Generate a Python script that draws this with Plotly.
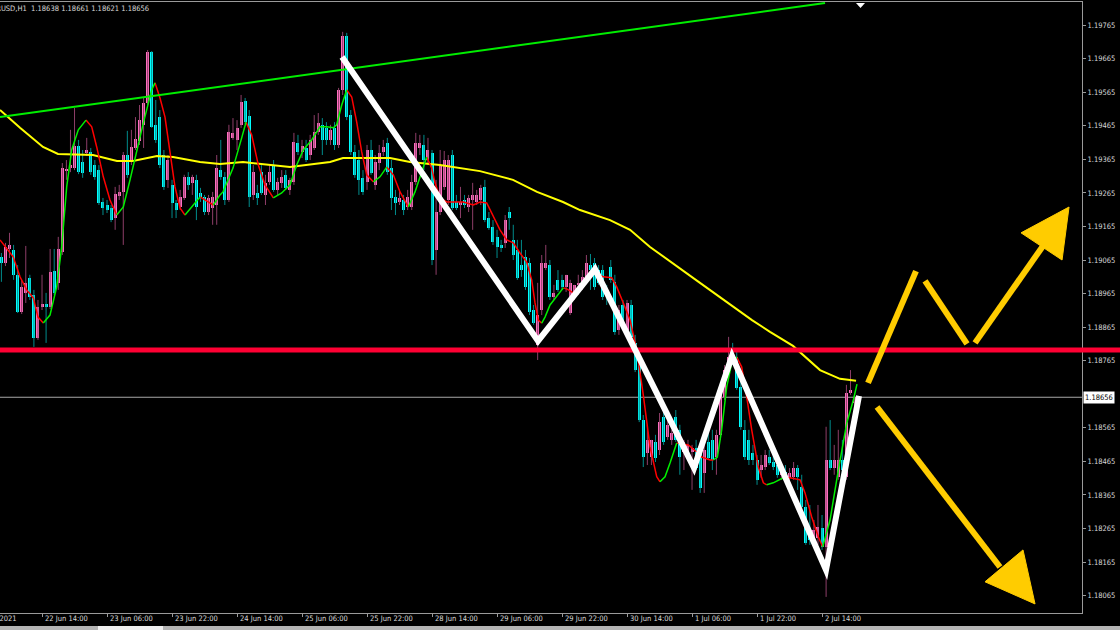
import plotly.graph_objects as go

# ---------------- data (EURUSD H1) ----------------
opens = [
    1.19074, 1.19056, 1.19098, 1.19095, 1.19021, 1.18910, 1.18967, 1.19012, 1.18961, 1.18833,
    1.18925, 1.18934, 1.18925, 1.19032, 1.18997, 1.19089, 1.19333, 1.19339, 1.19339, 1.19405,
    1.19357, 1.19384, 1.19387, 1.19348, 1.19333, 1.19238, 1.19229, 1.19220, 1.19190, 1.19256,
    1.19268, 1.19378, 1.19360, 1.19399, 1.19420, 1.19468, 1.19533, 1.19685, 1.19468, 1.19491,
    1.19378, 1.19304, 1.19289, 1.19235, 1.19223, 1.19250, 1.19313, 1.19295, 1.19304, 1.19265,
    1.19253, 1.19208, 1.19220, 1.19229, 1.19333, 1.19313, 1.19244, 1.19429, 1.19423, 1.19468,
    1.19539, 1.19494, 1.19259, 1.19265, 1.19327, 1.19259, 1.19298, 1.19348, 1.19274, 1.19295,
    1.19319, 1.19274, 1.19298, 1.19414, 1.19387, 1.19399, 1.19378, 1.19399, 1.19447, 1.19468,
    1.19459, 1.19423, 1.19459, 1.19408, 1.19572, 1.19733, 1.19497, 1.19387, 1.19363, 1.19310,
    1.19298, 1.19393, 1.19289, 1.19354, 1.19387, 1.19414, 1.19339, 1.19253, 1.19238, 1.19244,
    1.19223, 1.19223, 1.19298, 1.19399, 1.19408, 1.19363, 1.19384, 1.19095, 1.19208, 1.19283,
    1.19244, 1.19378, 1.19238, 1.19229, 1.19244, 1.19223, 1.19244, 1.19238, 1.19244, 1.19283,
    1.19190, 1.19164, 1.19134, 1.19110, 1.19116, 1.19208, 1.19125, 1.19095, 1.19050, 1.19074,
    1.19056, 1.18916, 1.18812, 1.18916, 1.19041, 1.19050, 1.18955, 1.19006, 1.19006, 1.18985,
    1.18907, 1.18955, 1.18991, 1.18982, 1.19015, 1.19050, 1.19056, 1.19035, 1.19035, 1.18976,
    1.19044, 1.19000, 1.18857, 1.18931, 1.18857, 1.18931, 1.18818, 1.18758, 1.18588, 1.18490,
    1.18478, 1.18523, 1.18499, 1.18597, 1.18538, 1.18529, 1.18597, 1.18559, 1.18493, 1.18493,
    1.18493, 1.18505, 1.18490, 1.18430, 1.18523, 1.18529, 1.18478, 1.18544, 1.18657, 1.18737,
    1.18788, 1.18776, 1.18687, 1.18559, 1.18529, 1.18490, 1.18469, 1.18439, 1.18448, 1.18478,
    1.18463, 1.18454, 1.18425, 1.18433, 1.18416, 1.18419, 1.18445, 1.18389, 1.18329, 1.18261,
    1.18237, 1.18237, 1.18267, 1.18210, 1.18469, 1.18445, 1.18419, 1.18469, 1.18419, 1.18669,
    1.18638,
]
highs = [
    1.19086, 1.19116, 1.19146, 1.19110, 1.19050, 1.19006, 1.19107, 1.19021, 1.18976, 1.18946,
    1.19021, 1.18967, 1.19098, 1.19098, 1.19134, 1.19354, 1.19363, 1.19453, 1.19518, 1.19423,
    1.19393, 1.19429, 1.19399, 1.19363, 1.19348, 1.19250, 1.19244, 1.19229, 1.19283, 1.19289,
    1.19387, 1.19450, 1.19453, 1.19491, 1.19527, 1.19548, 1.19691, 1.19688, 1.19542, 1.19512,
    1.19393, 1.19378, 1.19304, 1.19244, 1.19274, 1.19319, 1.19327, 1.19319, 1.19319, 1.19280,
    1.19259, 1.19259, 1.19268, 1.19378, 1.19423, 1.19327, 1.19468, 1.19488, 1.19482, 1.19557,
    1.19548, 1.19512, 1.19348, 1.19289, 1.19348, 1.19319, 1.19348, 1.19363, 1.19310, 1.19333,
    1.19333, 1.19310, 1.19444, 1.19438, 1.19423, 1.19423, 1.19438, 1.19497, 1.19503, 1.19488,
    1.19476, 1.19468, 1.19476, 1.19578, 1.19745, 1.19742, 1.19512, 1.19408, 1.19393, 1.19333,
    1.19408, 1.19423, 1.19378, 1.19408, 1.19423, 1.19429, 1.19363, 1.19274, 1.19274, 1.19259,
    1.19274, 1.19319, 1.19444, 1.19438, 1.19438, 1.19429, 1.19393, 1.19304, 1.19393, 1.19390,
    1.19378, 1.19393, 1.19259, 1.19283, 1.19259, 1.19259, 1.19295, 1.19274, 1.19289, 1.19304,
    1.19208, 1.19184, 1.19155, 1.19125, 1.19199, 1.19223, 1.19170, 1.19125, 1.19125, 1.19095,
    1.19071, 1.18931, 1.18997, 1.19080, 1.19110, 1.19065, 1.18991, 1.19035, 1.19021, 1.19021,
    1.19006, 1.18991, 1.19021, 1.19035, 1.19080, 1.19083, 1.19071, 1.19050, 1.19050, 1.18991,
    1.19065, 1.19021, 1.18931, 1.18946, 1.18946, 1.18946, 1.18842, 1.18782, 1.18603, 1.18574,
    1.18529, 1.18544, 1.18609, 1.18618, 1.18588, 1.18559, 1.18618, 1.18574, 1.18529, 1.18529,
    1.18514, 1.18529, 1.18499, 1.18514, 1.18559, 1.18559, 1.18559, 1.18678, 1.18752, 1.18836,
    1.18818, 1.18797, 1.18708, 1.18588, 1.18559, 1.18514, 1.18484, 1.18484, 1.18499, 1.18499,
    1.18484, 1.18469, 1.18454, 1.18454, 1.18445, 1.18463, 1.18454, 1.18425, 1.18350, 1.18335,
    1.18290, 1.18335, 1.18305, 1.18568, 1.18588, 1.18514, 1.18559, 1.18529, 1.18693, 1.18737,
    1.18661,
]
lows = [
    1.19000, 1.19047, 1.19071, 1.19006, 1.18907, 1.18904, 1.18937, 1.18946, 1.18806, 1.18827,
    1.18916, 1.18818, 1.18919, 1.18961, 1.18976, 1.19080, 1.19304, 1.19327, 1.19333, 1.19321,
    1.19310, 1.19375, 1.19319, 1.19304, 1.19229, 1.19199, 1.19205, 1.19178, 1.19155, 1.19244,
    1.19110, 1.19310, 1.19348, 1.19393, 1.19408, 1.19399, 1.19527, 1.19459, 1.19414, 1.19339,
    1.19274, 1.19280, 1.19190, 1.19190, 1.19214, 1.19244, 1.19274, 1.19259, 1.19184, 1.19238,
    1.19199, 1.19199, 1.19170, 1.19170, 1.19304, 1.19229, 1.19238, 1.19423, 1.19393, 1.19459,
    1.19470, 1.19223, 1.19244, 1.19229, 1.19259, 1.19229, 1.19289, 1.19268, 1.19259, 1.19280,
    1.19274, 1.19259, 1.19289, 1.19378, 1.19369, 1.19357, 1.19363, 1.19393, 1.19438, 1.19378,
    1.19408, 1.19408, 1.19393, 1.19399, 1.19557, 1.19482, 1.19378, 1.19310, 1.19259, 1.19259,
    1.19274, 1.19319, 1.19274, 1.19333, 1.19375, 1.19319, 1.19214, 1.19199, 1.19229, 1.19199,
    1.19214, 1.19214, 1.19289, 1.19378, 1.19333, 1.19348, 1.19050, 1.19021, 1.19199, 1.19274,
    1.19229, 1.19214, 1.19214, 1.19190, 1.19220, 1.19208, 1.19155, 1.19229, 1.19229, 1.19178,
    1.19155, 1.19110, 1.19071, 1.19089, 1.19101, 1.19155, 1.19065, 1.19006, 1.19015, 1.18976,
    1.18901, 1.18872, 1.18767, 1.18901, 1.19035, 1.18946, 1.18946, 1.18970, 1.18976, 1.18970,
    1.18901, 1.18946, 1.18961, 1.18976, 1.19006, 1.18976, 1.18976, 1.18991, 1.18946, 1.18931,
    1.18997, 1.18842, 1.18842, 1.18857, 1.18842, 1.18827, 1.18731, 1.18582, 1.18448, 1.18454,
    1.18454, 1.18463, 1.18484, 1.18514, 1.18529, 1.18514, 1.18523, 1.18425, 1.18439, 1.18469,
    1.18380, 1.18439, 1.18371, 1.18371, 1.18469, 1.18439, 1.18425, 1.18529, 1.18648, 1.18731,
    1.18752, 1.18678, 1.18559, 1.18469, 1.18454, 1.18454, 1.18395, 1.18416, 1.18439, 1.18454,
    1.18439, 1.18416, 1.18410, 1.18416, 1.18410, 1.18410, 1.18380, 1.18320, 1.18216, 1.18216,
    1.18216, 1.18216, 1.18201, 1.18061, 1.18439, 1.18425, 1.18410, 1.18416, 1.18410, 1.18663,
    1.18621,
]
closes = [
    1.19056, 1.19104, 1.19110, 1.19021, 1.18910, 1.18985, 1.18997, 1.18955, 1.18833, 1.18925,
    1.18934, 1.18925, 1.19029, 1.18967, 1.19098, 1.19339, 1.19336, 1.19348, 1.19405, 1.19327,
    1.19324, 1.19393, 1.19327, 1.19313, 1.19235, 1.19220, 1.19214, 1.19184, 1.19262, 1.19268,
    1.19378, 1.19319, 1.19402, 1.19426, 1.19482, 1.19533, 1.19685, 1.19462, 1.19423, 1.19348,
    1.19283, 1.19363, 1.19235, 1.19214, 1.19253, 1.19313, 1.19289, 1.19313, 1.19223, 1.19253,
    1.19208, 1.19250, 1.19253, 1.19339, 1.19313, 1.19244, 1.19447, 1.19444, 1.19459, 1.19536,
    1.19476, 1.19253, 1.19327, 1.19250, 1.19265, 1.19295, 1.19327, 1.19274, 1.19298, 1.19313,
    1.19280, 1.19304, 1.19417, 1.19387, 1.19405, 1.19363, 1.19423, 1.19447, 1.19473, 1.19423,
    1.19423, 1.19453, 1.19408, 1.19572, 1.19733, 1.19491, 1.19387, 1.19319, 1.19304, 1.19268,
    1.19393, 1.19324, 1.19357, 1.19384, 1.19402, 1.19327, 1.19250, 1.19235, 1.19250, 1.19214,
    1.19253, 1.19298, 1.19414, 1.19414, 1.19363, 1.19393, 1.19065, 1.19208, 1.19348, 1.19363,
    1.19363, 1.19220, 1.19220, 1.19238, 1.19229, 1.19250, 1.19259, 1.19259, 1.19280, 1.19184,
    1.19161, 1.19119, 1.19104, 1.19101, 1.19184, 1.19190, 1.19080, 1.19012, 1.19035, 1.18985,
    1.18910, 1.18877, 1.18901, 1.19056, 1.19056, 1.18955, 1.18967, 1.18976, 1.18985, 1.19021,
    1.18997, 1.18991, 1.18997, 1.19015, 1.19056, 1.19035, 1.18985, 1.18997, 1.18955, 1.18961,
    1.19006, 1.18851, 1.18916, 1.18872, 1.18937, 1.18836, 1.18737, 1.18588, 1.18478, 1.18529,
    1.18529, 1.18475, 1.18582, 1.18523, 1.18574, 1.18550, 1.18529, 1.18478, 1.18523, 1.18514,
    1.18505, 1.18445, 1.18386, 1.18499, 1.18475, 1.18469, 1.18544, 1.18672, 1.18737, 1.18776,
    1.18758, 1.18684, 1.18568, 1.18478, 1.18469, 1.18469, 1.18410, 1.18454, 1.18484, 1.18460,
    1.18448, 1.18425, 1.18439, 1.18419, 1.18430, 1.18445, 1.18419, 1.18329, 1.18222, 1.18231,
    1.18261, 1.18270, 1.18210, 1.18469, 1.18445, 1.18469, 1.18469, 1.18439, 1.18669, 1.18678,
    1.18656,
]

# slow moving average (yellow), read at points
yellow_bars = [-0.34, 4.58, 10.24, 13.93, 22.55, 28.46, 32.39, 38.3, 42.24, 48.89,
               53.81, 59.47, 71.04, 80.9, 84.09, 92.46, 95.65, 100.58, 107.96, 117.81,
               125.93, 131.84, 138.24, 142.43, 149.81, 154.74, 159.66, 171.96, 184.76, 189.19,
               194.85, 201.5, 206.42, 210.37]
yellow_vals = [1.19512, 1.19459, 1.19402, 1.19381, 1.19378, 1.19360, 1.19360, 1.19375, 1.19372, 1.19357,
               1.19351, 1.19357, 1.19342, 1.19357, 1.19369, 1.19369, 1.19369, 1.19357, 1.19348, 1.19330,
               1.19304, 1.19268, 1.19238, 1.19214, 1.19184, 1.19155, 1.19104, 1.18997, 1.18886, 1.18851,
               1.18809, 1.18737, 1.18711, 1.18705]

# fast two-colour moving average (red falling / green rising)
ma_bars = [-0.34, 1.30, 2.93, 4.58, 6.23, 7.85, 9.01, 10.31, 11.96, 13.61,
           14.84, 16.07, 17.30, 18.93, 20.82, 22.23, 23.46, 25.08, 26.73, 28.38,
           30.01, 31.66, 33.30, 34.93, 37.00, 37.81, 39.04, 40.27, 41.50, 42.73,
           43.96, 45.19, 46.84, 48.89, 50.12, 52.16, 53.81, 54.55, 57.01, 59.15,
           60.21, 61.61, 63.24, 64.89, 66.93, 68.99, 71.04, 72.69, 74.31, 76.38,
           78.42, 80.07, 81.70, 82.53, 83.77, 85.00, 86.23, 87.46, 88.69, 89.92,
           91.54, 93.19, 94.84, 96.47, 98.12, 100.16, 101.81, 103.46, 104.69, 105.92,
           106.73, 107.96, 109.61, 113.70, 116.16, 117.81, 119.46, 121.08, 122.73, 124.38,
           126.00, 127.65, 129.30, 130.53, 131.35, 132.16, 133.00, 133.81, 135.04, 136.69,
           138.31, 139.15, 140.77, 142.43, 144.89, 146.12, 148.16, 150.23, 151.46, 153.08,
           154.74, 156.39, 158.00, 159.66, 161.31, 162.12, 163.35, 164.58, 166.23, 169.09,
           171.15, 172.38, 174.43, 175.24, 176.23, 177.30, 178.53, 179.77, 181.00, 182.23,
           183.46, 184.69, 186.32, 187.55, 188.38, 190.00, 192.47, 194.12, 196.58, 197.81,
           199.46, 201.08, 202.17, 203.97, 206.01, 208.08, 209.71, 210.60]
ma_vals = [1.19125, 1.19101, 1.19074, 1.19015, 1.18976, 1.18952, 1.18895, 1.18877, 1.18901, 1.18985,
           1.19104, 1.19283, 1.19393, 1.19453, 1.19482, 1.19462, 1.19402, 1.19313, 1.19244, 1.19199,
           1.19223, 1.19304, 1.19393, 1.19473, 1.19572, 1.19593, 1.19548, 1.19491, 1.19384, 1.19283,
           1.19220, 1.19199, 1.19223, 1.19253, 1.19244, 1.19229, 1.19259, 1.19268, 1.19339, 1.19429,
           1.19476, 1.19438, 1.19348, 1.19289, 1.19250, 1.19265, 1.19289, 1.19348, 1.19393, 1.19423,
           1.19462, 1.19462, 1.19459, 1.19468, 1.19527, 1.19572, 1.19551, 1.19476, 1.19387, 1.19319,
           1.19298, 1.19313, 1.19342, 1.19319, 1.19268, 1.19223, 1.19268, 1.19327, 1.19372, 1.19339,
           1.19295, 1.19250, 1.19238, 1.19238, 1.19229, 1.19238, 1.19235, 1.19193, 1.19155, 1.19125,
           1.19116, 1.19086, 1.19059, 1.19006, 1.18937, 1.18886, 1.18877, 1.18895, 1.18931, 1.18955,
           1.18982, 1.18979, 1.18967, 1.18976, 1.19015, 1.19029, 1.19015, 1.19012, 1.18985, 1.18937,
           1.18886, 1.18797, 1.18663, 1.18508, 1.18419, 1.18404, 1.18419, 1.18460, 1.18520, 1.18514,
           1.18493, 1.18478, 1.18469, 1.18469, 1.18478, 1.18559, 1.18687, 1.18758, 1.18776, 1.18746,
           1.18657, 1.18559, 1.18448, 1.18401, 1.18395, 1.18401, 1.18416, 1.18416, 1.18410, 1.18371,
           1.18299, 1.18240, 1.18210, 1.18290, 1.18439, 1.18579, 1.18648, 1.18695]
ma_cols = "rrrrrrrggggggg" "rrrrrggggggrrrrrrggrrggggg" "rrrrgggggggggggrrrrrggrrrggg" \
          "rrrrrrrrrrrrrrrrrrgggg" "rrggg" "rrrrrrrrrrggg" "rrrrrggggg" "rrrrrrgg" "rrrrrrgggggg"

# drawn objects
trend_bars = [-0.34, 202.74]
trend_vals = [1.19491, 1.19831]
support_level = 1.18797
last_price = 1.18656
zig_bars = [83.84, 132.09, 146.12, 170.49, 179.84, 202.98, 211.1]
zig_vals = [1.19670, 1.18824, 1.19038, 1.18445, 1.18779, 1.18141, 1.18660]
up1_bars, up1_vals = [213.32, 225.13], [1.18699, 1.19032]
up2_bars, up2_vals = [227.35, 237.69], [1.19003, 1.18815]
up3_bars, up3_vals = [239.66, 256.39], [1.18818, 1.19107]
uphead_bars, uphead_vals = [250.98, 262.80, 261.08], [1.19146, 1.19223, 1.19065]
dn_bars, dn_vals = [215.54, 245.8], [1.18627, 1.18150]
dnhead_bars, dnhead_vals = [242.11, 254.43, 251.47], [1.18106, 1.18040, 1.18201]

x_tick_bars = [10, 26, 42, 58, 74, 90, 106, 122, 138, 154, 170, 186, 202]
x_tick_labels = ["22 Jun 14:00", "23 Jun 06:00", "23 Jun 22:00", "24 Jun 14:00", "25 Jun 06:00",
                 "25 Jun 22:00", "28 Jun 14:00", "29 Jun 06:00", "29 Jun 22:00", "30 Jun 14:00",
                 "1 Jul 06:00", "1 Jul 22:00", "2 Jul 14:00"]
# the 1.18665 level is hidden behind the current-price label, as in the terminal
y_tick_vals = [1.18065, 1.18165, 1.18265, 1.18365, 1.18465, 1.18565, 1.18765, 1.18865,
               1.18965, 1.19065, 1.19165, 1.19265, 1.19365, 1.19465, 1.19565, 1.19665, 1.19765]
y_tick_labels = ["1.18065", "1.18165", "1.18265", "1.18365", "1.18465", "1.18565", "1.18765",
                 "1.18865", "1.18965", "1.19065", "1.19165", "1.19265", "1.19365", "1.19465", "1.19565",
                 "1.19665", "1.19765"]
first_date_label = "21 Jun 2021"
header_text = "EURUSD,H1  1.18638 1.18661 1.18621 1.18656"

# ---------------- style ----------------
FONT = "Liberation Sans Narrow, DejaVu Sans Condensed, Arial Narrow, sans-serif"
FS = 7.5
TXT = "#D8D8D8"
AXC = "#9A9A9A"
BULL_BODY, BEAR_BODY = "#FF6EC0", "#00FFFF"
BULL_WICK, BEAR_WICK = "#8E3E68", "#008C8C"
W, H = 1120, 630
ML, MR, MT, MB = 0, 38, 2, 17
PW, PH = W - ML - MR, H - MT - MB

fig = go.Figure()

n = len(closes)
idx = list(range(n))
bull = [c >= o for o, c in zip(opens, closes)]

for flag, wc in ((True, BULL_WICK), (False, BEAR_WICK)):
    xs, ys = [], []
    for i in idx:
        if bull[i] == flag:
            xs += [i, i, None]
            ys += [lows[i], highs[i], None]
    fig.add_trace(go.Scatter(x=xs, y=ys, mode="lines", line=dict(color=wc, width=1),
                             hoverinfo="skip", showlegend=False))

fig.add_trace(go.Bar(
    x=idx,
    y=[max(abs(c - o), 0.00003) for o, c in zip(opens, closes)],
    base=[min(o, c) for o, c in zip(opens, closes)],
    width=0.74,
    marker=dict(color=[BULL_BODY if b else BEAR_BODY for b in bull], line=dict(width=0)),
    showlegend=False, hoverinfo="skip"))

# yellow MA
fig.add_trace(go.Scatter(x=yellow_bars, y=yellow_vals, mode="lines",
                         line=dict(color="#FFFF00", width=2), showlegend=False, hoverinfo="skip"))

# two-colour MA: group consecutive segments with the same colour
groups = {"r": ([], []), "g": ([], [])}
k = 0
while k < len(ma_bars) - 1:
    c = ma_cols[k]
    j = k
    while j < len(ma_bars) - 1 and ma_cols[j] == c:
        j += 1
    gx, gy = groups[c]
    gx += ma_bars[k:j + 1] + [None]
    gy += ma_vals[k:j + 1] + [None]
    k = j
for c, col in (("r", "#FF0000"), ("g", "#00F000")):
    gx, gy = groups[c]
    fig.add_trace(go.Scatter(x=gx, y=gy, mode="lines", line=dict(color=col, width=1.5),
                             showlegend=False, hoverinfo="skip"))


def path(bx, vy, close=False):
    s = "M " + " L ".join(f"{a},{b}" for a, b in zip(bx, vy))
    return s + (" Z" if close else "")


shapes = []
# current price line
shapes.append(dict(type="line", xref="paper", x0=0, x1=1, yref="y", y0=last_price, y1=last_price,
                   line=dict(color="#A8A8A8", width=1), layer="below"))
# green trendline
shapes.append(dict(type="line", xref="x", yref="y", x0=trend_bars[0], y0=trend_vals[0],
                   x1=trend_bars[1], y1=trend_vals[1], line=dict(color="#00EE00", width=2), layer="above"))
# red horizontal level (runs across the price scale too)
shapes.append(dict(type="line", xref="paper", x0=0, x1=W / PW, yref="y", y0=support_level, y1=support_level,
                   line=dict(color="#FF0033", width=5), layer="above"))
# white zigzag
shapes.append(dict(type="path", xref="x", yref="y", path=path(zig_bars, zig_vals),
                   line=dict(color="#FFFFFF", width=6), layer="above"))
# yellow arrows
GOLD = "#FFCC00"
for bx, vy in ((up1_bars, up1_vals), (up2_bars, up2_vals), (up3_bars, up3_vals), (dn_bars, dn_vals)):
    shapes.append(dict(type="path", xref="x", yref="y", path=path(bx, vy),
                       line=dict(color=GOLD, width=6), layer="above"))
for bx, vy in ((uphead_bars, uphead_vals), (dnhead_bars, dnhead_vals)):
    shapes.append(dict(type="path", xref="x", yref="y", path=path(bx, vy, True),
                       fillcolor=GOLD, line=dict(color=GOLD, width=1), layer="above"))


def px(xp):
    return (xp - ML) / PW


def py(yp):
    return (H - MB - yp) / PH


# chart-shift marker at top
shapes.append(dict(type="path", xref="paper", yref="paper",
                   path=f"M {px(856)},{py(3)} L {px(865)},{py(3)} L {px(860.5)},{py(8)} Z",
                   fillcolor="#FFFFFF", line=dict(width=0), layer="above"))
# bottom tab strip
shapes.append(dict(type="rect", xref="paper", yref="paper", x0=px(0), x1=px(W), y0=py(630), y1=py(626),
                   fillcolor="#B4B4B4", line=dict(width=0), layer="above"))
shapes.append(dict(type="rect", xref="paper", yref="paper", x0=px(98), x1=px(163), y0=py(630), y1=py(626),
                   fillcolor="#F0F0F0", line=dict(width=0), layer="above"))

tfont = dict(family=FONT, size=FS, color=TXT)
annotations = [
    dict(xref="paper", yref="paper", x=0, y=py(8), xanchor="left", yanchor="middle", xshift=-15,
         text=header_text, showarrow=False, font=tfont),
    dict(xref="paper", yref="paper", x=px(19), y=py(618), xanchor="right", yanchor="middle",
         text=first_date_label, showarrow=False, font=tfont),
    dict(xref="paper", yref="y", x=1, y=last_price, xanchor="left", yanchor="middle", xshift=1,
         text="1.18656", showarrow=False, bgcolor="#FFFFFF", borderpad=1,
         font=dict(family=FONT, size=FS, color="#000000")),
]
# time-scale labels start just right of their tick, as in the terminal
for b, lab in zip(x_tick_bars, x_tick_labels):
    annotations.append(dict(xref="x", yref="paper", x=b, y=py(618), xanchor="left", yanchor="middle",
                            xshift=1, text=lab, showarrow=False, font=tfont))

fig.update_layout(
    width=W, height=H, margin=dict(l=ML, r=MR, t=MT, b=MB),
    paper_bgcolor="#000000", plot_bgcolor="#000000",
    barmode="overlay", bargap=0, showlegend=False,
    font=dict(family=FONT, size=FS, color=TXT),
    shapes=shapes, annotations=annotations,
)
fig.update_xaxes(range=[-0.345, 265.99], tickmode="array", tickvals=x_tick_bars,
                 ticks="outside", ticklen=3, tickcolor=AXC, showticklabels=False, showgrid=False,
                 zeroline=False, showline=True, linecolor=AXC, linewidth=1, mirror=True, fixedrange=True)
fig.update_yaxes(side="right", range=[1.18013, 1.19834], tickmode="array", tickvals=y_tick_vals,
                 ticktext=y_tick_labels, ticks="outside", ticklen=3, tickcolor=AXC, showgrid=False,
                 zeroline=False, showline=True, linecolor=AXC, linewidth=1,
                 tickfont=tfont, fixedrange=True)

fig.write_html("out.html", config={"displayModeBar": False},
               post_script="document.body.style.margin='0';document.body.style.background='#000';")
